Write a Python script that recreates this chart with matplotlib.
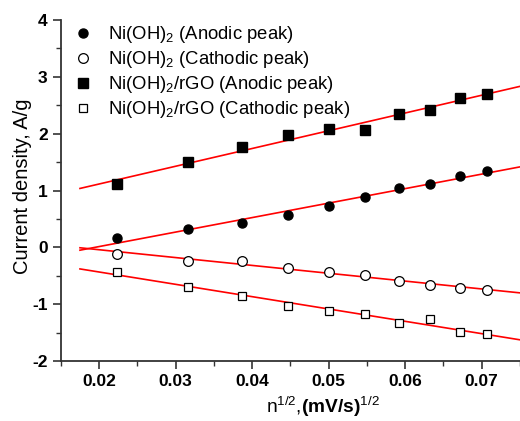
import numpy as np
import matplotlib
matplotlib.use("Agg")
import matplotlib.pyplot as plt
from matplotlib.ticker import MultipleLocator

plt.rcParams['font.family'] = ['Liberation Sans', 'DejaVu Sans']
plt.rcParams['mathtext.fontset'] = 'custom'
plt.rcParams['mathtext.rm'] = 'Liberation Sans'
plt.rcParams['mathtext.it'] = 'Liberation Sans:italic'
plt.rcParams['mathtext.bf'] = 'Liberation Sans:bold'
plt.rcParams['axes.unicode_minus'] = False

# square root of scan rate
x = [0.0224, 0.0316, 0.0387, 0.0447, 0.0500, 0.0548, 0.0592, 0.0632, 0.0671, 0.0707]

ni_anodic = [0.16, 0.33, 0.42, 0.57, 0.73, 0.885, 1.04, 1.12, 1.25, 1.34]
ni_cathodic = [-0.11, -0.235, -0.24, -0.36, -0.44, -0.49, -0.60, -0.66, -0.71, -0.75]
rgo_anodic = [1.11, 1.50, 1.76, 1.98, 2.09, 2.06, 2.35, 2.42, 2.63, 2.69]
rgo_cathodic = [-0.43, -0.70, -0.85, -1.03, -1.12, -1.17, -1.33, -1.26, -1.49, -1.52]

labels = ["Ni(OH)$_2$ (Anodic peak)", "Ni(OH)$_2$ (Cathodic peak)",
          "Ni(OH)$_2$/rGO (Anodic peak)", "Ni(OH)$_2$/rGO (Cathodic peak)"]

fig = plt.figure(figsize=(5.2, 4.21), dpi=100)
ax = fig.add_axes([0.117, 0.1425, 0.883, 0.81])

series = [ni_anodic, ni_cathodic, rgo_anodic, rgo_cathodic]
styles = [dict(marker='o', mfc='black', mec='black', ms=6.5),
          dict(marker='o', mfc='white', mec='black', ms=7, mew=0.9),
          dict(marker='s', mfc='black', mec='black', ms=6.5),
          dict(marker='s', mfc='white', mec='black', ms=6, mew=0.9)]

xfit = np.array([0.0175, 0.075])
for ys, st, lab in zip(series, styles, labels):
    k, b = np.polyfit(x, ys, 1)
    ax.plot(xfit, k * xfit + b, color='red', lw=1.2, zorder=2)
    ax.plot(x, ys, ls='none', label=lab, zorder=3, **st)

ax.set_xlim(0.015, 0.075)
ax.set_ylim(-2, 4)
ax.xaxis.set_major_locator(MultipleLocator(0.01))
ax.xaxis.set_minor_locator(MultipleLocator(0.005))
ax.yaxis.set_major_locator(MultipleLocator(1))
ax.yaxis.set_minor_locator(MultipleLocator(0.5))
ax.set_xticks([0.02, 0.03, 0.04, 0.05, 0.06, 0.07])
ax.set_xticklabels(['0.02', '0.03', '0.04', '0.05', '0.06', '0.07'])

for s in ['top', 'right']:
    ax.spines[s].set_visible(False)
for s in ['left', 'bottom']:
    ax.spines[s].set_color('#333333')
    ax.spines[s].set_linewidth(1.3)

ax.tick_params(which='major', direction='out', length=6, width=1.2, color='#333333',
               labelsize=12.5)
ax.tick_params(which='minor', direction='out', length=3.5, width=1.0, color='#333333')
for t in ax.get_xticklabels() + ax.get_yticklabels():
    t.set_fontweight('bold')

ax.set_ylabel('Current density, A/g', fontsize=14.5)
ax.yaxis.set_label_coords(-0.063, 0.512)
ax.set_xlabel(r'n$^{1/2}$,$\mathbf{(mV/s)}^{1/2}$', fontsize=13.8)
ax.xaxis.set_label_coords(0.57, -0.098)

ax.legend(loc='upper left', frameon=False, fontsize=13.3, handlelength=1.2,
          handletextpad=0.75, borderpad=0.4, borderaxespad=0.2,
          labelspacing=0.22, bbox_to_anchor=(0.0, 1.02))

fig.savefig('out.png', dpi=100)
